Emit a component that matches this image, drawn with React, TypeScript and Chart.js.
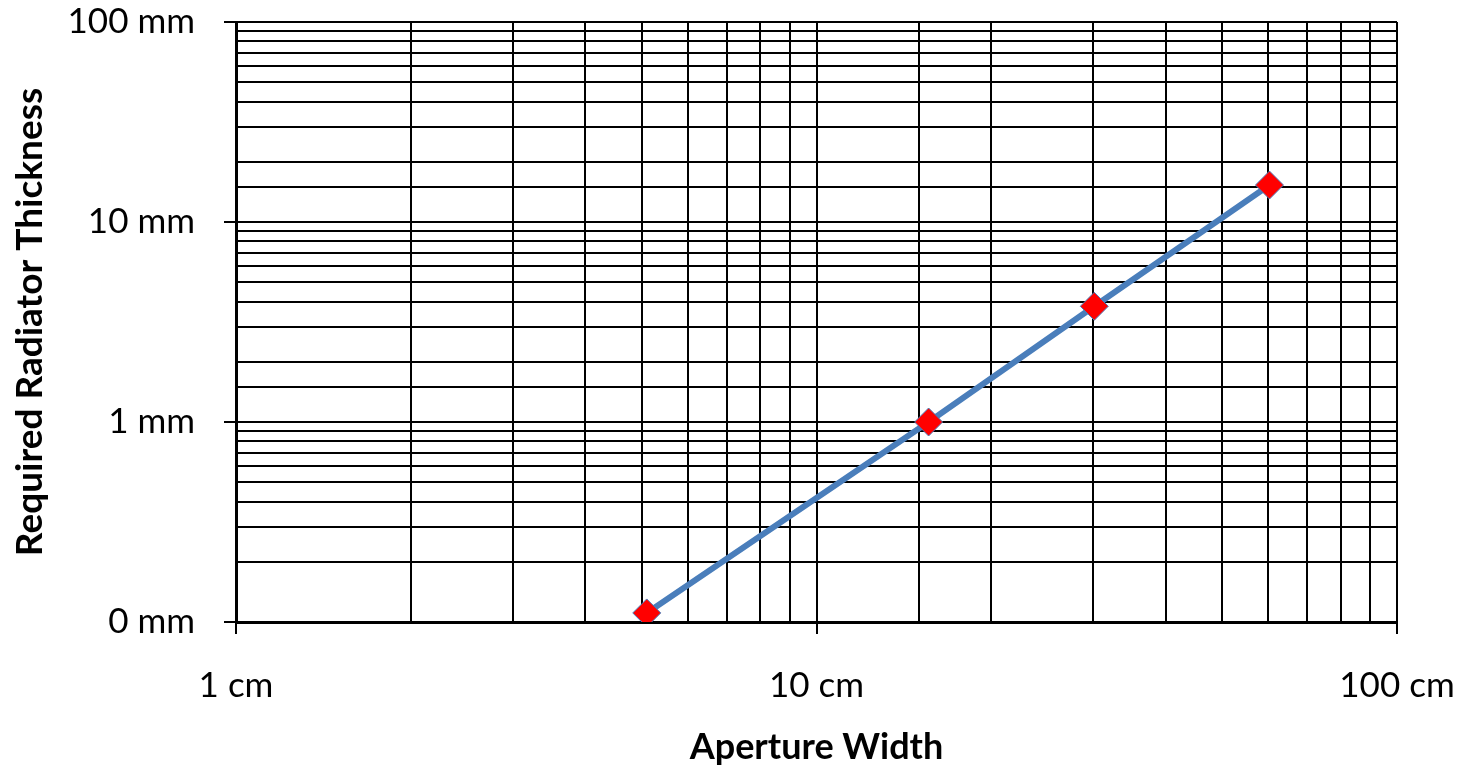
import React, { useEffect, useRef } from "react";
import { Chart, registerables } from "chart.js";

Chart.register(...registerables);

const apertureCm = [5.1, 15.6, 30.1, 60.3];
const thicknessMm = [0.111, 1.0, 3.79, 15.3];
const xTitle = "Aperture Width";
const yTitle = "Required Radiator Thickness";
const FONT = "Lato, 'DejaVu Sans', sans-serif";

const isDecade = (v: number) => {
  const l = Math.log10(v);
  return Math.abs(l - Math.round(l)) < 1e-6;
};

export default function App() {
  const ref = useRef<HTMLCanvasElement>(null);
  useEffect(() => {
    if (!ref.current) return;
    const chart = new Chart(ref.current, {
      type: "line",
      data: {
        datasets: [
          {
            data: apertureCm.map((x, i) => ({ x, y: thicknessMm[i] })),
            borderColor: "#4a7ebb",
            borderWidth: 6,
            pointStyle: "rectRot",
            pointRadius: 14,
            pointBackgroundColor: "#ff0000",
            pointBorderColor: "#4a7ebb",
            pointBorderWidth: 1,
            tension: 0,
          },
        ],
      },
      options: {
        animation: false,
        responsive: true,
        maintainAspectRatio: false,
        layout: { padding: { top: 22, right: 64, left: 0, bottom: 0 } },
        plugins: { legend: { display: false }, tooltip: { enabled: false } },
        scales: {
          x: {
            type: "logarithmic",
            min: 1,
            max: 100,
            afterFit: (s: any) => {
              s.height = 147;
              s.paddingLeft = 0;
              s.paddingRight = 0;
            },
            border: { display: true, color: "#000", width: 3 },
            grid: {
              color: "#000",
              lineWidth: 2,
              drawTicks: true,
              tickLength: 12,
              tickWidth: 2,
              tickColor: (c: any) => (c.tick && isDecade(c.tick.value) ? "#000" : "rgba(0,0,0,0)"),
            },
            ticks: {
              autoSkip: false,
              maxRotation: 0,
              padding: 31,
              color: "#000",
              font: { family: FONT, size: 35 },
              callback: (v: any) => (isDecade(Number(v)) ? `${Math.round(Number(v))} cm` : ""),
            },
            title: {
              display: true,
              text: xTitle,
              color: "#000",
              font: { family: FONT, size: 36, weight: "bold" },
              padding: { top: 0, bottom: 0 },
            },
          },
          y: {
            type: "logarithmic",
            min: 0.1,
            max: 100,
            afterFit: (s: any) => {
              s.width = 236;
              s.paddingTop = 0;
              s.paddingBottom = 0;
            },
            border: { display: true, color: "#000", width: 3 },
            grid: {
              color: "#000",
              lineWidth: 2,
              drawTicks: true,
              tickLength: 12,
              tickWidth: 2,
              tickColor: (c: any) => (c.tick && isDecade(c.tick.value) ? "#000" : "rgba(0,0,0,0)"),
            },
            ticks: {
              autoSkip: false,
              padding: 29,
              color: "#000",
              font: { family: FONT, size: 35 },
              callback: (v: any) => (isDecade(Number(v)) ? `${Math.round(Number(v))} mm` : ""),
            },
            title: {
              display: true,
              text: yTitle,
              color: "#000",
              font: { family: FONT, size: 37, weight: "bold" },
              padding: { top: 8, bottom: 0 },
            },
          },
        },
      },
    });
    return () => chart.destroy();
  }, []);
  return (
    <div style={{ position: "fixed", left: 0, top: 0, width: 1461, height: 769, background: "#fff" }}>
      <canvas ref={ref} />
    </div>
  );
}
